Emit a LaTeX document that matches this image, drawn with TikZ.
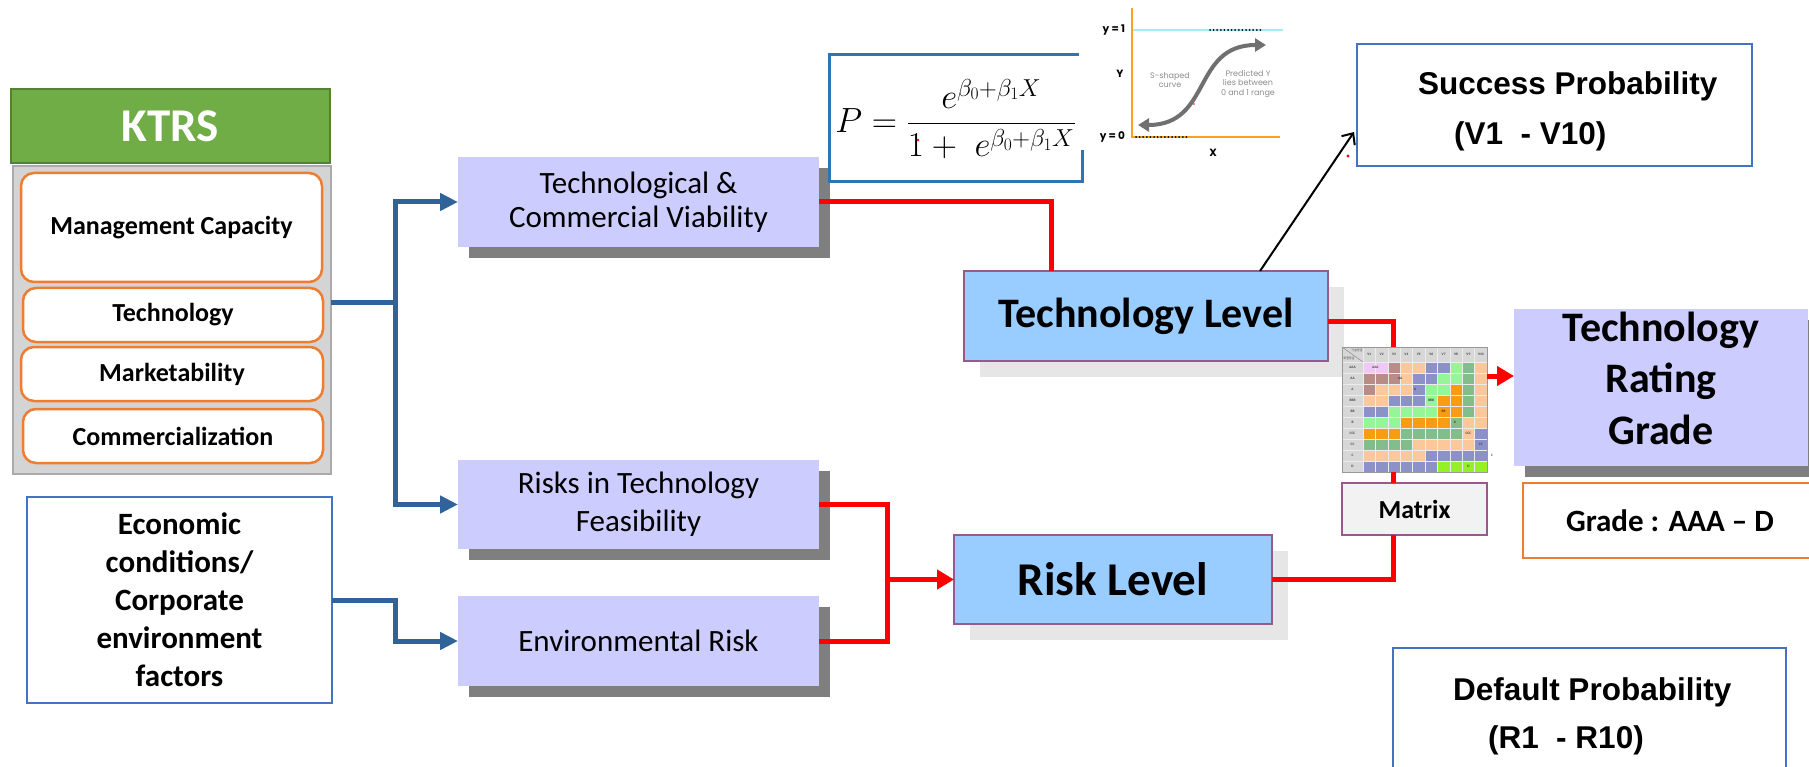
\documentclass[tikz,border=0pt]{standalone}
\usepackage{fix-cm}
\usepackage{amsmath}
\usepackage{fontspec}
\setmainfont{Carlito}
\newfontfamily\arialf{Liberation Sans}
\newfontfamily\popf{Poppins}
\newfontfamily\krf{Noto Sans CJK KR}
\usetikzlibrary{arrows.meta,shadows,calc}

\definecolor{ktgreen}{RGB}{112,173,71}
\definecolor{ktgreendk}{RGB}{84,130,53}
\definecolor{ktgray}{RGB}{212,212,212}
\definecolor{ktgraydk}{RGB}{170,170,170}
\definecolor{orng}{RGB}{237,125,49}
\definecolor{arrblue}{RGB}{47,99,153}
\definecolor{boxblue}{RGB}{68,114,196}
\definecolor{fmblue}{RGB}{46,117,182}
\definecolor{lav}{RGB}{204,204,255}
\definecolor{shdark}{RGB}{127,127,127}
\definecolor{shlight}{RGB}{230,230,230}
\definecolor{lvblue}{RGB}{153,204,255}
\definecolor{mauve}{RGB}{150,90,140}
\definecolor{mxgray}{RGB}{242,242,242}
\definecolor{cyanln}{RGB}{160,238,245}
\definecolor{axorange}{RGB}{255,160,30}
\definecolor{crvgray}{RGB}{112,112,112}
\definecolor{mP}{RGB}{240,200,245}
\definecolor{mBr}{RGB}{185,140,135}
\definecolor{mPe}{RGB}{250,200,155}
\definecolor{mBl}{RGB}{140,145,200}
\definecolor{mLG}{RGB}{150,245,150}
\definecolor{mOr}{RGB}{250,155,20}
\definecolor{mMG}{RGB}{130,190,140}
\definecolor{mLi}{RGB}{150,240,40}
\definecolor{mHd}{RGB}{215,215,215}

\begin{document}
\begin{tikzpicture}[x=1pt,y=-1pt,
  every node/.style={inner sep=0pt, outer sep=0pt},
  ktrsbox/.style={fill=ktgreen, draw=ktgreendk, line width=2pt, text=white, font=\fontsize{47}{50}\selectfont\bfseries},
  panel/.style={fill=ktgray, draw=ktgraydk, line width=1.5pt},
  itembox/.style={fill=white, draw=orng, line width=2.5pt, rounded corners=13pt, font=\fontsize{26}{30}\selectfont\bfseries},
  ecbox/.style={fill=white, draw=boxblue, line width=2pt, align=center, font=\fontsize{31}{38}\selectfont\bfseries},
  factor/.style={fill=lav, align=center, drop shadow={shadow xshift=11pt, shadow yshift=-11pt, fill=shdark, opacity=1}},
  level/.style={fill=lvblue, draw=mauve, line width=1.5pt, drop shadow={shadow xshift=16pt, shadow yshift=-16pt, fill=shlight, opacity=1}},
  probbox/.style={fill=white, draw=boxblue, line width=2.5pt},
  ptext/.style={font=\arialf\bfseries\fontsize{31.5}{36}\selectfont, anchor=base west},
  redl/.style={draw=red, line width=5pt},
  redarr/.style={redl, -{Triangle[length=17pt,width=19pt]}},
  bluel/.style={draw=arrblue, line width=5pt},
  bluearr/.style={bluel, -{Triangle[length=18pt,width=17pt]}},
  mtxt/.style={font=\fontsize{3.5}{4}\selectfont\bfseries, text=black!75},
  glab/.style={font=\popf\bfseries\fontsize{10.5}{11}\selectfont},
  gtxt/.style={font=\popf\fontsize{8}{9.3}\selectfont, text=black!45, align=center}
]
\useasboundingbox (0,0) rectangle (1809,767);
\fill[white] (0,0) rectangle (1809,767);
\clip (0,0) rectangle (1809,767);

% ---------- KTRS column ----------
\node[ktrsbox, minimum width=319pt, minimum height=74pt] (ktrs) at (170.5,126) {KTRS};
\node[panel, minimum width=318pt, minimum height=308pt] (gb) at (172,320) {};
\node[itembox, minimum width=301pt, minimum height=109pt] (mc) at (171.5,227.5) {Management Capacity};
\node[itembox, minimum width=300pt, minimum height=54pt] (tech) at (173,315) {Technology};
\node[itembox, minimum width=302pt, minimum height=54pt] (mkt) at (172,374) {Marketability};
\node[itembox, minimum width=300pt, minimum height=54pt] (com) at (173,436) {Commercialization};

\node[ecbox, minimum width=305pt, minimum height=206pt] (ec) at (179.5,600) {Economic\\conditions/\\Corporate\\environment\\factors};

% ---------- factor boxes ----------
\node[factor, minimum width=361pt, minimum height=90pt, font=\fontsize{31}{34}\selectfont] (tc) at (638.5,202) {Technological \&\\Commercial Viability};
\node[factor, minimum width=361pt, minimum height=89pt, font=\fontsize{31}{38}\selectfont] (rf) at (638.5,504.5) {Risks in Technology\\Feasibility};
\node[factor, minimum width=361pt, minimum height=90pt, font=\fontsize{31}{34}\selectfont] (er) at (638.5,641) {Environmental Risk};

% ---------- level boxes ----------
\node[level, minimum width=364pt, minimum height=90pt, font=\fontsize{42}{46}\selectfont\bfseries] (tl) at (1146,316) {Technology Level};
\node[level, minimum width=318pt, minimum height=89pt, font=\fontsize{47}{50}\selectfont\bfseries] (rl) at (1113,579.5) {Risk Level};

% ---------- formula ----------
\node[draw=fmblue, line width=3pt, fill=white, minimum width=253pt, minimum height=127pt] (fb) at (955.5,118.5) {};
\node (fm) at (955.5,119) {\fontsize{35}{40}\selectfont$P=\dfrac{e^{\beta_0+\beta_1X}}{1+\;e^{\beta_0+\beta_1X}}$};
\fill[red] (918,140) circle (1.3pt);

% ---------- logistic graph ----------
\fill[white] (1079,10) rectangle (1300,150);
\draw[cyanln, line width=1.5pt] (1132,30) -- (1283,30);
\draw[axorange, line width=2pt] (1132,8) -- (1132,137) -- (1280,137);
\draw[black, line width=2pt, line cap=round, dash pattern=on 0pt off 3.6pt] (1210,30) -- (1262,30);
\draw[black, line width=2pt, line cap=round, dash pattern=on 0pt off 3.6pt] (1136,137) -- (1187,137);
\draw[crvgray, line width=4pt, {Triangle[length=11pt,width=13pt]}-{Triangle[length=11pt,width=13pt]}] (1138,125) .. controls (1212,125) and (1192,45) .. (1266,45);
\fill[red] (1194,104) circle (0.8pt);
\node[glab, anchor=east] (gy1) at (1125,30) {y = 1};
\node[glab, anchor=east] (gy0) at (1125,137) {y = 0};
\node[glab] (gY) at (1120,74) {Y};
\node[glab] (gX) at (1213,153) {X};
\node[gtxt] (gs) at (1170,80) {S-shaped\\curve};
\node[gtxt] (gp) at (1248,84) {Predicted Y\\lies between\\0 and 1 range};

% ---------- probability boxes ----------
\node[probbox, minimum width=395pt, minimum height=122pt] (sp) at (1554.5,105) {};
\node[ptext] (sp1) at (1418,95) {Success Probability};
\node[ptext] (sp2) at (1454,145) {(V1\ \ - V10)};
\fill[red] (1348,156) circle (1.6pt);

\node[probbox, minimum width=393pt, minimum height=122pt] (dp) at (1589.5,709) {};
\node[ptext] (dp1) at (1453,700) {Default Probability};
\node[ptext] (dp2) at (1488,748) {(R1\ \ - R10)};

% ---------- rating grade ----------
\node[fill=lav, minimum width=294pt, minimum height=157pt, drop shadow={shadow xshift=11pt, shadow yshift=-11pt, fill=shdark, opacity=1}] (trg) at (1661,387.5) {};
\node[align=center, font=\fontsize{42}{51.5}\selectfont\bfseries] (trgt) at (1661,378) {Technology\\Rating\\Grade};
\node[draw=orng, line width=2.5pt, fill=white, minimum width=294pt, minimum height=75pt, font=\fontsize{31}{34}\selectfont\bfseries] (grd) at (1670,520.5) {Grade : AAA – D};

% ---------- matrix ----------
\node[minimum width=145pt, minimum height=125pt] (mx) at (1414.5,409.5) {};
\fill[mHd] (1342,347) rectangle (1487,362);
\fill[mHd] (1342,347) rectangle (1363,472);
\foreach \r/\cl in {1/{P,P,Br,Pe,Pe,Bl,Bl,LG,MG,Pe},
                    2/{Br,Br,Br,Pe,Bl,Bl,LG,LG,MG,Pe},
                    3/{Br,Pe,Pe,Pe,Bl,LG,LG,Or,MG,Pe},
                    4/{Pe,Pe,Bl,Bl,Bl,LG,Or,Or,MG,Pe},
                    5/{Bl,Bl,LG,LG,LG,LG,Or,Or,MG,Pe},
                    6/{LG,LG,LG,Or,Or,Or,Or,MG,Pe,Pe},
                    7/{Or,Or,Or,MG,MG,MG,MG,MG,Pe,Bl},
                    8/{MG,MG,MG,MG,Pe,Pe,Pe,Pe,Pe,Bl},
                    9/{Pe,Pe,Pe,Pe,Pe,Bl,Bl,Bl,Bl,Bl},
                    10/{Bl,Bl,Bl,Bl,Bl,Bl,Li,Li,Li,Li}}{
  \foreach \c [count=\i] in \cl {
    \fill[fill=m\c] ({1363+(\i-1)*12.4},{362+(\r-1)*11}) rectangle ++(12.4,11);
  }
}
\foreach \i in {0,...,10} \draw[white!85!gray, line width=0.4pt] ({1363+\i*12.4},347) -- ({1363+\i*12.4},472);
\foreach \j in {0,...,10} \draw[white!85!gray, line width=0.4pt] (1342,{362+\j*11}) -- (1487,{362+\j*11});
\draw[gray, line width=0.4pt] (1342,347) -- (1363,362);
\draw[gray!80, line width=1pt] (mx.north west) rectangle (mx.south east);
\foreach \i in {1,...,10} \node[mtxt] (mh\i) at ({1363+(\i-0.5)*12.4},354.5) {V\i};
\foreach \t [count=\j] in {AAA,AA,A,BBB,BB,B,CCC,CC,C,D} \node[mtxt] (mr\j) at (1352.5,{362+(\j-0.5)*11}) {\t};
\node[mtxt, font=\krf\fontsize{3}{3.5}\selectfont] (mk1) at (1357,350.5) {기술등급};
\node[mtxt, font=\krf\fontsize{3}{3.5}\selectfont] (mk2) at (1349,358.5) {위험등급};
\foreach \t/\cx/\ry in {AAA/1.0/1, AA/3.0/2, A/4.2/3, BBB/5.5/4, BB/6.5/5, B/7.4/6, CCC/8.5/7, CC/9.5/8, C/10.4/9, D/8.5/10}
  \node[mtxt] (ml\t) at ({1363+\cx*12.4},{362+(\ry-0.5)*11}) {\t};

\node[fill=mxgray, draw=mauve, line width=1.5pt, minimum width=145pt, minimum height=52pt, font=\fontsize{26}{30}\selectfont\bfseries] (mxb) at (1414.5,509) {Matrix};

% ---------- blue connectors ----------
\coordinate (jb) at (395,302);
\draw[bluel] ([yshift=18pt]gb.east) -- (jb);
\draw[bluearr] (jb) |- (tc.west);
\draw[bluearr] (jb) |- (rf.west);
\draw[bluearr] (ec.east) -- ++(63,0) |- (er.west);

% ---------- red connectors ----------
\draw[redl] (tc.east) -| ([xshift=-95pt]tl.north);
\coordinate (jr) at (887,579.5);
\draw[redl] (rf.east) -| (jr);
\draw[redl] (er.east) -| (jr);
\draw[redarr] (jr) -- (rl.west);
\draw[redl] ([yshift=-5pt]tl.east) -| ([xshift=-21.5pt]mx.north);
\draw[redl] ([xshift=-21.5pt]mx.south) -- ([xshift=-21.5pt]mxb.north);
\draw[redl] (rl.east) -| ([xshift=-21.5pt]mxb.south);
\draw[redarr] ([yshift=33.5pt]mx.east) -- ([yshift=11.5pt]trg.west);

% ---------- black arrow ----------
\draw[black, line width=2pt, -{Straight Barb[length=9pt,width=16pt]}] ([xshift=114pt]tl.north) -- ([xshift=-3pt,yshift=-27pt]sp.west);
\end{tikzpicture}
\end{document}
